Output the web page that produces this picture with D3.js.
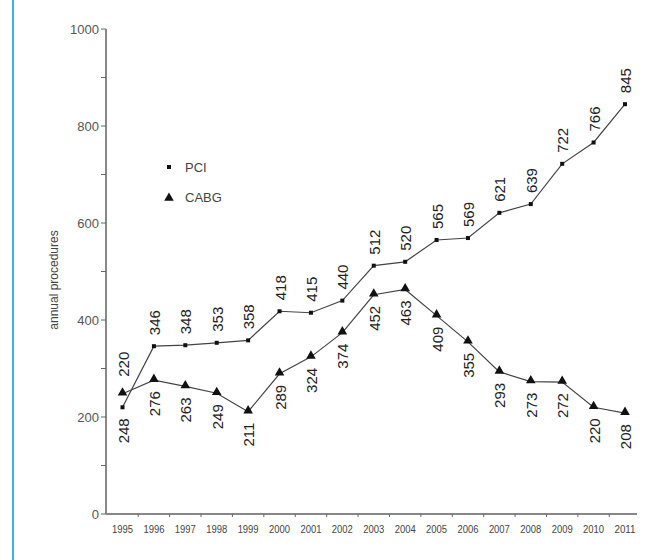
<!DOCTYPE html>
<html>
<head>
<meta charset="utf-8">
<script src="https://cdn.jsdelivr.net/npm/d3@7"></script>
<style>
body { margin:0; background:#fff; }
svg text { font-family: "Liberation Sans", Arial, sans-serif; }
</style>
</head>
<body>
<div id="plot"></div>
<script>
// data
var years = [1995,1996,1997,1998,1999,2000,2001,2002,2003,2004,2005,2006,2007,2008,2009,2010,2011];
var pci  = [220,346,348,353,358,418,415,440,512,520,565,569,621,639,722,766,845];
var cabg = [248,276,263,249,211,289,324,374,452,463,409,355,293,273,272,220,208];
var yTicks = [0,200,400,600,800,1000];
var yMinor = [100,300,500,700,900];

var W = 653, H = 560;
var svg = d3.select('#plot').append('svg')
    .attr('width', W).attr('height', H);

// blue frame line on the left
svg.append('rect').attr('x',12).attr('y',0).attr('width',2).attr('height',H).attr('fill','#3bb4e5');

var x = d3.scaleLinear().domain([1995,2011]).range([122.5,625]);
var y = d3.scaleLinear().domain([0,1000]).range([514,29]);
var axisX0 = 106, axisX1 = 637;

var g = svg.append('g');

// y axis
g.append('line').attr('x1',axisX0).attr('x2',axisX0).attr('y1',y(1000)).attr('y2',y(0))
    .attr('stroke','#888').attr('stroke-width',2);
g.selectAll('.ytick').data(yTicks.concat(yMinor)).enter().append('line')
    .attr('x1',axisX0-5).attr('x2',axisX0).attr('y1',function(d){return y(d);}).attr('y2',function(d){return y(d);})
    .attr('stroke','#666').attr('stroke-width',1);
g.selectAll('.ylab').data(yTicks).enter().append('text')
    .attr('x',axisX0-7).attr('y',function(d){return y(d);}).attr('dy','0.35em')
    .attr('text-anchor','end').attr('font-size',13).attr('fill','#555')
    .text(function(d){return d;});

// x axis
g.append('line').attr('x1',axisX0).attr('x2',axisX1).attr('y1',y(0)).attr('y2',y(0))
    .attr('stroke','#888').attr('stroke-width',2);
g.selectAll('.xtick').data(years.slice(1)).enter().append('line')
    .attr('x1',function(d){return x(d-0.5);}).attr('x2',function(d){return x(d-0.5);})
    .attr('y1',y(0)).attr('y2',y(0)+3).attr('stroke','#666');
g.selectAll('.xlab').data(years).enter().append('text')
    .attr('x',function(d){return x(d);}).attr('y',y(0)+19)
    .attr('text-anchor','middle').attr('font-size',10).attr('fill','#444')
    .attr('textLength',21).attr('lengthAdjust','spacingAndGlyphs')
    .text(function(d){return d;});

// y title
g.append('text').attr('transform','translate(58,280) rotate(-90)')
    .attr('text-anchor','middle').attr('font-size',12).attr('fill','#444')
    .text('annual procedures');

var line = d3.line().x(function(d,i){return x(years[i]);}).y(function(d){return y(d);});

g.append('path').datum(pci).attr('d',line).attr('fill','none').attr('stroke','#444').attr('stroke-width',1.2);
g.append('path').datum(cabg).attr('d',line).attr('fill','none').attr('stroke','#444').attr('stroke-width',1.2);

g.selectAll('.pci').data(pci).enter().append('rect')
    .attr('x',function(d,i){return x(years[i])-2;}).attr('y',function(d){return y(d)-2;})
    .attr('width',4).attr('height',4).attr('fill','#111');

var tri = d3.symbol().type(d3.symbolTriangle).size(40);
g.selectAll('.cabg').data(cabg).enter().append('path')
    .attr('d',tri)
    .attr('transform',function(d,i){return 'translate('+x(years[i])+','+(y(d)-1)+')';})
    .attr('fill','#111');

// value labels: PCI above the upper point, CABG below the lower point
g.selectAll('.pcilab').data(pci).enter().append('text')
    .attr('transform',function(d,i){
        var top = Math.min(y(d), y(cabg[i]));
        var off = cabg[i] > d ? 17 : 11;
        return 'translate('+(x(years[i])+6)+','+(top-off)+') rotate(-90)';
    })
    .attr('font-size',15).attr('fill','#222')
    .text(function(d){return d;});

g.selectAll('.cabglab').data(cabg).enter().append('text')
    .attr('transform',function(d,i){
        var bot = Math.max(y(d), y(pci[i]));
        return 'translate('+(x(years[i])+6)+','+(bot+11)+') rotate(-90)';
    })
    .attr('text-anchor','end').attr('font-size',15).attr('fill','#222')
    .text(function(d){return d;});

// legend
var leg = g.append('g');
leg.append('rect').attr('x',167).attr('y',165).attr('width',4).attr('height',4).attr('fill','#111');
leg.append('text').attr('x',185).attr('y',167).attr('dy','0.35em').attr('font-size',13).attr('fill','#444').text('PCI');
leg.append('path').attr('d',tri).attr('transform','translate(169,198)').attr('fill','#111');
leg.append('text').attr('x',185).attr('y',197).attr('dy','0.35em').attr('font-size',13).attr('fill','#444').text('CABG');
</script>
</body>
</html>
